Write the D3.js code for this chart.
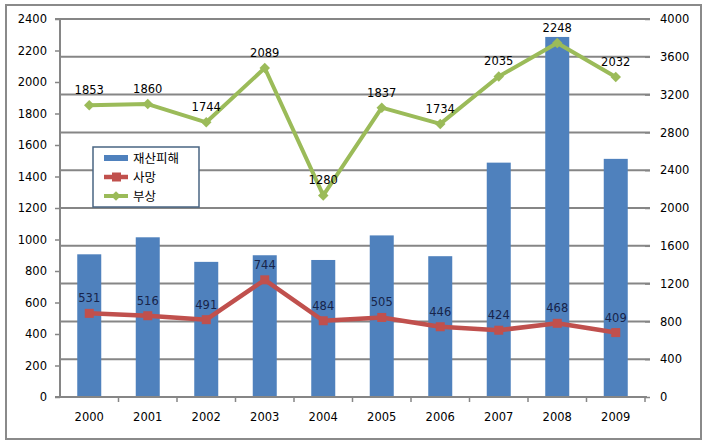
<!DOCTYPE html>
<html><head><meta charset="utf-8">
<script src="https://cdn.jsdelivr.net/npm/d3@7"></script>
<style>body{margin:0;background:#fff}</style>
</head><body>
<svg id="c" width="707" height="446"></svg>
<script>
const years = ["2000","2001","2002","2003","2004","2005","2006","2007","2008","2009"];
const damage = [1510,1690,1430,1500,1450,1710,1490,2480,3810,2520]; // 재산피해 (right axis)
const deaths = [531,516,491,744,484,505,446,424,468,409];            // 사망 (left axis)
const injuries = [1853,1860,1744,2089,1280,1837,1734,2035,2248,2032]; // 부상 (left axis)
const leftTicks = d3.range(0, 2401, 200);
const rightTicks = d3.range(0, 4001, 400);
const seriesNames = ["재산피해","사망","부상"];

const svg = d3.select("#c");
const font = "'DejaVu Sans', Verdana, sans-serif";
const kfont = "'Noto Sans CJK KR', sans-serif";
const m = {l:60, r:645, t:19, b:397};

svg.append("rect").attr("x",6).attr("y",5).attr("width",695).attr("height",434)
  .attr("fill","#fff").attr("stroke","#8a8a8a").attr("stroke-width",2);

const x = d3.scaleBand().domain(years).range([m.l, m.r]);
const yL = d3.scaleLinear().domain([0,2400]).range([m.b, m.t]);
const yR = d3.scaleLinear().domain([0,4000]).range([m.b, m.t]);

// gridlines (right axis)
svg.append("g").selectAll("line").data(rightTicks.filter(d=>d>0)).join("line")
  .attr("x1",m.l).attr("x2",m.r+5).attr("y1",d=>yR(d)).attr("y2",d=>yR(d))
  .attr("stroke","#868686").attr("stroke-width",2);

// bars
const bw = 24;
svg.append("g").selectAll("rect").data(damage).join("rect")
  .attr("x",(d,i)=>x(years[i])+x.bandwidth()/2-bw/2)
  .attr("width",bw)
  .attr("y",d=>yR(d)).attr("height",d=>m.b-yR(d))
  .attr("fill","#4F81BD");

// left axis
const gL = svg.append("g").attr("transform",`translate(${m.l},0)`)
  .call(d3.axisLeft(yL).tickValues(leftTicks).tickFormat(d3.format("d")).tickSize(5).tickPadding(8));
gL.selectAll("path,line").attr("stroke","#868686").attr("stroke-width",1.5);
gL.select("path").attr("d",`M-5,${m.t}H0V${m.b}H-5`).attr("stroke-width",2);
gL.selectAll("text").attr("font-family",font).attr("font-size",11.5).attr("fill","#000");

// right axis
const gR = svg.append("g").attr("transform",`translate(${m.r},0)`)
  .call(d3.axisRight(yR).tickValues(rightTicks).tickFormat(d3.format("d")).tickSize(5).tickPadding(10));
gR.select("path").remove();
gR.selectAll("line").attr("stroke","#868686").attr("stroke-width",1.5);
gR.selectAll("text").attr("font-family",font).attr("font-size",11.5).attr("fill","#000");

// x axis
const gX = svg.append("g").attr("transform",`translate(0,${m.b})`)
  .call(d3.axisBottom(x).tickSize(0).tickPadding(16));
gX.select("path").attr("d",`M${m.l},0H${m.r+2}`).attr("stroke","#868686").attr("stroke-width",2);
gX.selectAll("text").attr("font-family",font).attr("font-size",11.5).attr("fill","#000");
svg.append("g").selectAll("line").data(d3.range(1,11)).join("line")
  .attr("x1",i=>m.l+i*x.step()).attr("x2",i=>m.l+i*x.step())
  .attr("y1",m.b).attr("y2",m.b+5).attr("stroke","#868686").attr("stroke-width",1.5);

const cx = i => x(years[i]) + x.bandwidth()/2;
const line = d3.line().x((d,i)=>cx(i)).y(d=>yL(d));

// injuries (green)
svg.append("path").datum(injuries).attr("d",line).attr("fill","none")
  .attr("stroke","#9BBB59").attr("stroke-width",4).attr("stroke-linejoin","round");
svg.append("g").selectAll("path").data(injuries).join("path")
  .attr("transform",(d,i)=>`translate(${cx(i)},${yL(d)})`)
  .attr("d",d3.symbol(d3.symbolDiamond2,70)).attr("fill","#9BBB59");

// deaths (red)
svg.append("path").datum(deaths).attr("d",line).attr("fill","none")
  .attr("stroke","#C0504D").attr("stroke-width",4.5).attr("stroke-linejoin","round");
svg.append("g").selectAll("rect").data(deaths).join("rect")
  .attr("x",(d,i)=>cx(i)-4.5).attr("y",d=>yL(d)-4.5).attr("width",9).attr("height",9)
  .attr("fill","#C0504D");

// data labels
svg.append("g").selectAll("text").data(injuries).join("text")
  .attr("x",(d,i)=>cx(i)).attr("y",d=>yL(d)-11)
  .attr("text-anchor","middle").attr("font-family",font).attr("font-size",11.5)
  .attr("fill","#000").text(d=>d);
svg.append("g").selectAll("text").data(deaths).join("text")
  .attr("x",(d,i)=>cx(i)).attr("y",d=>yL(d)-11)
  .attr("text-anchor","middle").attr("font-family",font).attr("font-size",11.5)
  .attr("fill","#17244a").text(d=>d);

// legend
const lg = svg.append("g");
lg.append("rect").attr("x",93).attr("y",147).attr("width",106).attr("height",60)
  .attr("fill","#fff").attr("stroke","#4a6582").attr("stroke-width",1.5);
const ly = [158,177,196];
lg.append("rect").attr("x",104).attr("y",ly[0]-3).attr("width",24).attr("height",6).attr("fill","#4F81BD");
lg.append("line").attr("x1",104).attr("x2",128).attr("y1",ly[1]).attr("y2",ly[1]).attr("stroke","#C0504D").attr("stroke-width",4.5);
lg.append("rect").attr("x",112).attr("y",ly[1]-4.5).attr("width",9).attr("height",9).attr("fill","#C0504D");
lg.append("line").attr("x1",104).attr("x2",128).attr("y1",ly[2]).attr("y2",ly[2]).attr("stroke","#9BBB59").attr("stroke-width",4);
lg.append("path").attr("transform",`translate(116,${ly[2]})`).attr("d",d3.symbol(d3.symbolDiamond2,60)).attr("fill","#9BBB59");
lg.selectAll("text.lab").data(seriesNames).join("text").attr("class","lab")
  .attr("x",133).attr("y",(d,i)=>ly[i]+4.5).attr("font-family",kfont).attr("font-size",12.5)
  .attr("fill","#000").text(d=>d);
</script>
</body></html>
